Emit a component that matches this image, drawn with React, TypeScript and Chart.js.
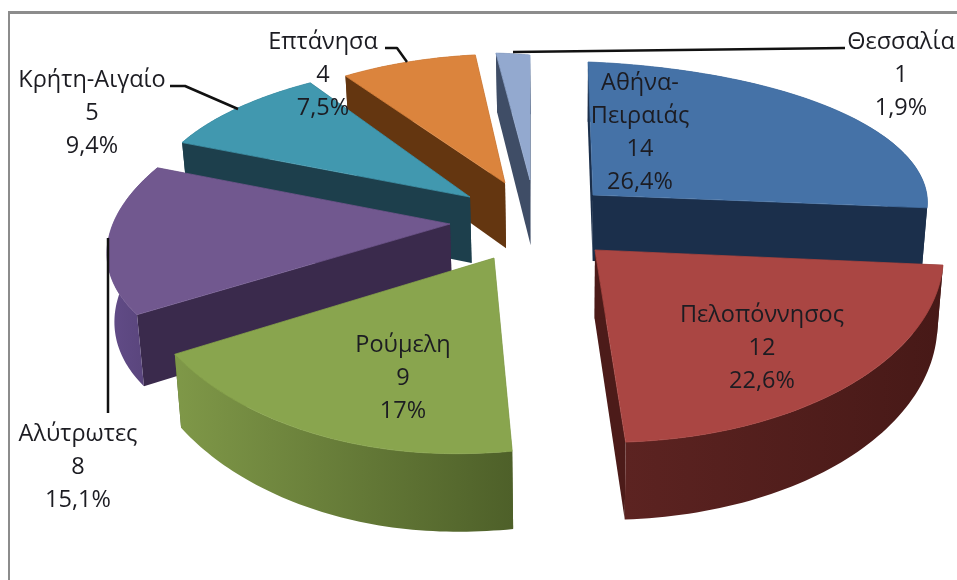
import React, { useEffect, useRef } from "react";
import { Chart, ArcElement, PieController, DoughnutController } from "chart.js";

// ---- data ----
const regions = ["Αθήνα-Πειραιάς", "Πελοπόννησος", "Ρούμελη", "Αλύτρωτες", "Κρήτη-Αιγαίο", "Επτάνησα", "Θεσσαλία"];
const counts = [14, 12, 9, 8, 5, 4, 1];
const shares = ["26,4%", "22,6%", "17%", "15,1%", "9,4%", "7,5%", "1,9%"];
const nameLines = [["Αθήνα-", "Πειραιάς"], ["Πελοπόννησος"], ["Ρούμελη"], ["Αλύτρωτες"], ["Κρήτη-Αιγαίο"], ["Επτάνησα"], ["Θεσσαλία"]];

// ---- style ----
const faceColors = ["#4572a7", "#aa4643", "#89a54e", "#71588f", "#4198af", "#db843d", "#93a9cf"];
const cutWallColors = ["#1b2f4b", "#4c1b19", "#4e6029", "#3a2a4c", "#1d3f4c", "#643610", "#3f4d66"];
const rimLeftColors = ["#1b2f4b", "#5c2321", "#7f9848", "#624c88", "#1d3f4c", "#643610", "#3f4d66"];
const rimRightColors = ["#1b2f4b", "#471917", "#4e6029", "#574379", "#1d3f4c", "#643610", "#3f4d66"];
// back to front
const paintOrder = [6, 5, 4, 3, 0, 2, 1];
// per-slice view: exploded apex, the oblique scaling of the unit circle, and the rim's perspective bulge
const explode = [[593, 195], [595, 250], [494, 258], [450, 224], [470, 197], [505, 183], [530, 180]];
const view = [
  [335, 5, 1, 133],
  [348.5, 10, -2, 192.5],
  [375, -4, 8, 193],
  [337, -52.5, -5, 162],
  [320, -23, 4, 135],
  [293, -5, 0, 129],
  [288, 0, 24, 125],
];
const rimBulge = [-6, 1, 10, 2, 0, 0, 0];
const labelCenters = [[640, 83], [762, 315], [403, 345], [78, 434], [92, 80], [323, 42], [901, 42]];
const labelLineGap = 33;
const leaders = [
  [[170, 86], [185, 86], [238, 109]],
  [[385, 48], [397, 48], [407, 62]],
  [[845, 48], [513, 52]],
  [[108, 238], [108, 413]],
];
const FONT = '23.5px "Open Sans", "Noto Sans", sans-serif';

const rim = (i: number, t: number, a0: number, a1: number) => {
  const a = a0 + (a1 - a0) * t;
  const [ax, ay] = explode[i];
  const [rx, sx, sy, ry] = view[i];
  const dx = rx * Math.cos(a) + sx * Math.sin(a);
  const dy = sy * Math.cos(a) + ry * Math.sin(a);
  const k = 1 + (rimBulge[i] * Math.sin(Math.PI * t)) / Math.hypot(dx, dy);
  return [ax + dx * k, ay + dy * k];
};
const drop = ([x, y]: number[]) => [x + 0.016 * (570 - x), y + 66 + 0.047 * (y - 197)];

const trace = (ctx: CanvasRenderingContext2D, pts: number[][]) => {
  ctx.beginPath();
  pts.forEach(([x, y], k) => (k ? ctx.lineTo(x, y) : ctx.moveTo(x, y)));
  ctx.closePath();
};
const poly = (ctx: CanvasRenderingContext2D, pts: number[][], fill: any) => {
  trace(ctx, pts);
  ctx.fillStyle = fill;
  ctx.fill();
};

class Pie3DController extends PieController {
  static id = "pie3d";
  static defaults = { ...DoughnutController.defaults, ...PieController.defaults };
  draw() {
    const chart: any = (this as any).chart;
    const ctx: CanvasRenderingContext2D = chart.ctx;
    const meta: any = (this as any)._cachedMeta;
    paintOrder.forEach((i) => {
      const el = meta.data[i];
      const { x, y, startAngle, endAngle, outerRadius: R0 } = el.getProps(["x", "y", "startAngle", "endAngle", "outerRadius"]);
      const apex = explode[i];
      const apexB = drop(apex);
      const top: number[][] = [];
      for (let k = 0; k <= 60; k++) top.push(rim(i, k / 60, startAngle, endAngle));
      const s = top[0];
      const e = top[60];
      poly(ctx, [apex, e, drop(e), apexB], cutWallColors[i]);
      poly(ctx, [apex, s, drop(s), apexB], cutWallColors[i]);
      const xs = top.map((p) => p[0]);
      const grad = ctx.createLinearGradient(Math.min(...xs), 0, Math.max(...xs), 0);
      grad.addColorStop(0, rimLeftColors[i]);
      grad.addColorStop(1, rimRightColors[i]);
      poly(ctx, [...top, ...top.map(drop).reverse()], grad);
      // the library's own arc paints the face; the rim outline trims it
      const [rx, sx, sy, ry] = view[i];
      const R = R0 / 1.1;
      ctx.save();
      trace(ctx, [apex, ...top]);
      ctx.clip();
      ctx.transform(rx / R, sy / R, sx / R, ry / R, apex[0] - (rx / R) * x - (sx / R) * y, apex[1] - (sy / R) * x - (ry / R) * y);
      el.draw(ctx, chart.chartArea);
      ctx.restore();
      // seal the anti-aliased seam between the face and its walls
      trace(ctx, [apex, ...top]);
      ctx.strokeStyle = faceColors[i];
      ctx.lineWidth = 0.8;
      ctx.lineJoin = "round";
      ctx.stroke();
    });
  }
}

Chart.register(ArcElement, Pie3DController);

const framePlugin = {
  id: "frame",
  beforeDraw(chart: any) {
    const { ctx } = chart;
    ctx.save();
    ctx.fillStyle = "#ffffff";
    ctx.fillRect(0, 0, 957, 580);
    ctx.fillStyle = "#8c8c8c";
    ctx.fillRect(8, 11, 949, 3);
    ctx.fillRect(8, 11, 2, 569);
    ctx.restore();
  },
};

const labelPlugin = {
  id: "sliceLabels",
  afterDatasetsDraw(chart: any) {
    const { ctx } = chart;
    ctx.save();
    ctx.strokeStyle = "#111111";
    ctx.lineWidth = 2.5;
    leaders.forEach((pts) => {
      ctx.beginPath();
      pts.forEach(([x, y], k) => (k ? ctx.lineTo(x, y) : ctx.moveTo(x, y)));
      ctx.stroke();
    });
    ctx.font = FONT;
    ctx.textAlign = "center";
    ctx.textBaseline = "middle";
    ctx.fillStyle = "#1c1c22";
    regions.forEach((_, i) => {
      const [x, y] = labelCenters[i];
      [...nameLines[i], String(counts[i]), shares[i]].forEach((t, k) => ctx.fillText(t, x, y + k * labelLineGap));
    });
    ctx.restore();
  },
};

export default function App() {
  const ref = useRef<HTMLCanvasElement>(null);
  useEffect(() => {
    document.body.style.margin = "0";
    const chart = new Chart(ref.current!, {
      type: "pie3d" as any,
      data: {
        labels: regions,
        datasets: [{ data: counts, backgroundColor: faceColors, borderWidth: 0 }],
      },
      options: {
        responsive: false,
        animation: false,
        events: [],
        plugins: { legend: { display: false }, tooltip: { enabled: false } },
      } as any,
      plugins: [framePlugin, labelPlugin],
    });
    return () => chart.destroy();
  }, []);
  return <canvas ref={ref} width={957} height={580} style={{ display: "block", filter: "blur(0.5px)" }} />;
}
